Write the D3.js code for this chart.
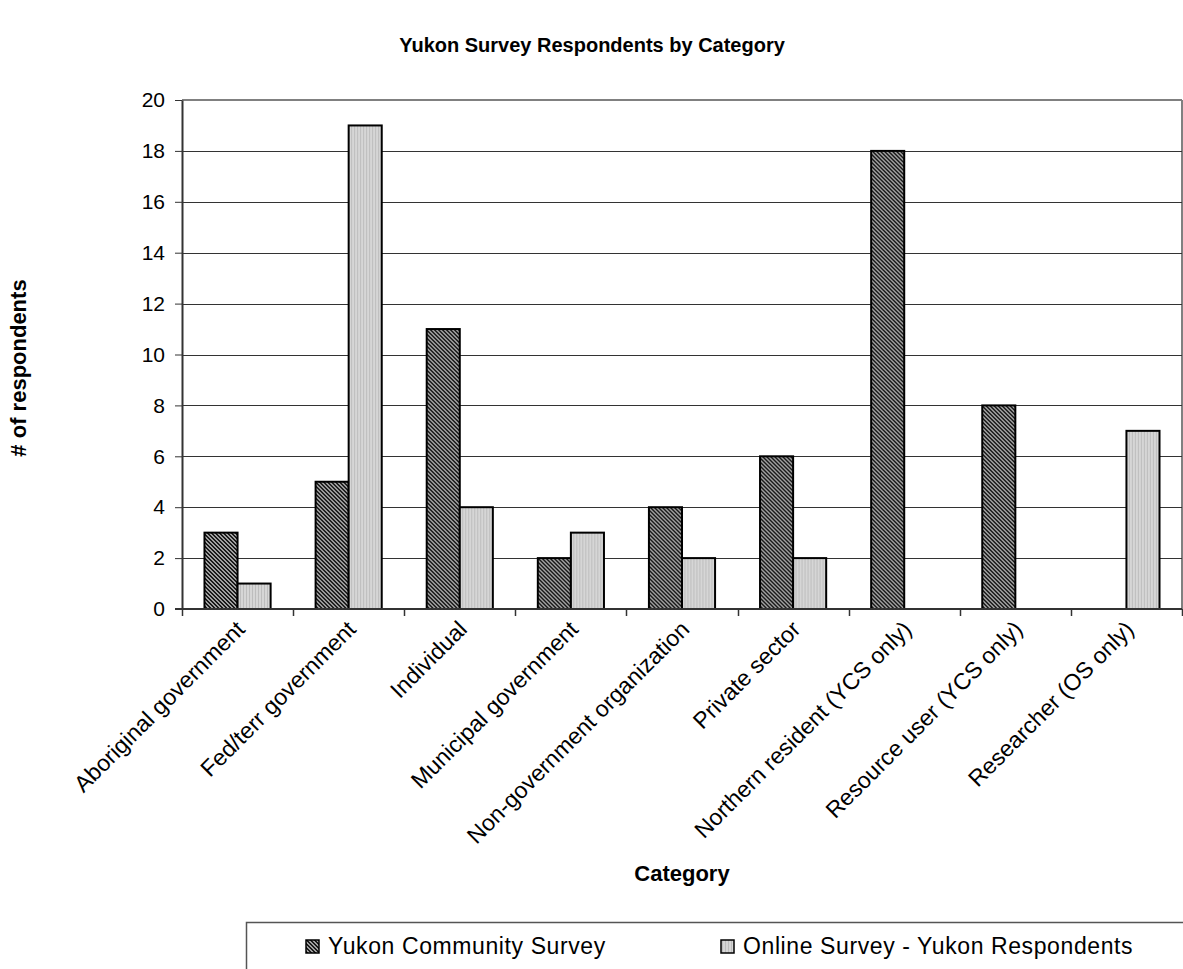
<!DOCTYPE html>
<html>
<head>
<meta charset="utf-8">
<script src="https://cdn.jsdelivr.net/npm/d3@7"></script>
<style>
  body { margin: 0; background: #fff; }
  svg { display: block; font-family: Arial, "Liberation Sans", sans-serif; }
</style>
</head>
<body>
<svg id="chart" width="1183" height="969"></svg>
<script>
// Respondent counts per category for the two surveys
const categories = [
  "Aboriginal government",
  "Fed/terr government",
  "Individual",
  "Municipal government",
  "Non-government organization",
  "Private sector",
  "Northern resident (YCS only)",
  "Resource user (YCS only)",
  "Researcher (OS only)"
];
const seriesNames = ["Yukon Community Survey", "Online Survey - Yukon Respondents"];
const communitySurvey = [3, 5, 11, 2, 4, 6, 18, 8, 0];
const onlineSurvey = [1, 19, 4, 3, 2, 2, 0, 0, 7];
const yTicks = [0, 2, 4, 6, 8, 10, 12, 14, 16, 18, 20];

const svg = d3.select("#chart");
const margin = { left: 182, right: 1182, top: 100, bottom: 609 };

// Fill patterns: dark checker for the community survey, light stripes for the online survey
const defs = svg.append("defs");
const dark = defs.append("pattern").attr("id", "pat-dark")
  .attr("patternUnits", "userSpaceOnUse").attr("width", 4).attr("height", 4);
dark.append("rect").attr("width", 4).attr("height", 4).attr("fill", "#a0a0a0");
[[0, 0], [1, 1], [2, 2], [3, 3], [1, 0], [2, 1], [3, 2], [0, 3]].forEach(([px, py]) =>
  dark.append("rect").attr("x", px).attr("y", py).attr("width", 1).attr("height", 1).attr("fill", "#1a1a1a"));

const light = defs.append("pattern").attr("id", "pat-light")
  .attr("patternUnits", "userSpaceOnUse").attr("width", 3).attr("height", 3);
light.append("rect").attr("width", 3).attr("height", 3).attr("fill", "#d6d6d6");
light.append("rect").attr("x", 1).attr("width", 1).attr("height", 3).attr("fill", "#bdbdbd");

const fills = ["url(#pat-dark)", "url(#pat-light)"];

const x = d3.scaleBand().domain(categories).range([margin.left, margin.right]);
const xSub = d3.scaleBand().domain([0, 1]).range([0, x.bandwidth()]).paddingInner(0).paddingOuter(0.68);
const y = d3.scaleLinear().domain([0, 20]).range([margin.bottom, margin.top]);

// Title
svg.append("text").attr("x", 592).attr("y", 52).attr("text-anchor", "middle")
  .attr("font-size", 20).attr("font-weight", "bold").text("Yukon Survey Respondents by Category");

// Plot frame (top and right edges)
svg.append("line").attr("x1", margin.left).attr("x2", margin.right).attr("y1", margin.top).attr("y2", margin.top)
  .attr("stroke", "#808080").attr("stroke-width", 2);
svg.append("line").attr("x1", margin.right).attr("x2", margin.right).attr("y1", margin.top).attr("y2", margin.bottom)
  .attr("stroke", "#808080").attr("stroke-width", 2);

// Gridlines
svg.append("g").selectAll("line").data(yTicks.filter(d => d > 0 && d < 20)).join("line")
  .attr("x1", margin.left).attr("x2", margin.right)
  .attr("y1", d => Math.round(y(d)) + 0.5).attr("y2", d => Math.round(y(d)) + 0.5)
  .attr("stroke", "#333").attr("stroke-width", 1);

// Bars
const groups = svg.append("g").selectAll("g").data(categories).join("g")
  .attr("transform", d => `translate(${x(d)},0)`);
groups.selectAll("rect")
  .data((d, i) => [communitySurvey[i], onlineSurvey[i]].map((v, s) => ({ v, s })).filter(o => o.v > 0))
  .join("rect")
  .attr("x", d => xSub(d.s))
  .attr("width", xSub.bandwidth())
  .attr("y", d => y(d.v))
  .attr("height", d => y(0) - y(d.v))
  .attr("fill", d => fills[d.s])
  .attr("stroke", "#000").attr("stroke-width", 2);

// Y axis
const yAxis = d3.axisLeft(y).tickValues(yTicks).tickSize(7).tickSizeOuter(0);
const gy = svg.append("g").attr("transform", `translate(${margin.left},0)`).call(yAxis);
gy.select(".domain").attr("stroke", "#333").attr("stroke-width", 2);
gy.selectAll(".tick line").attr("stroke", "#333");
gy.selectAll(".tick text").attr("font-size", 21).attr("fill", "#000").attr("x", -17)
  .attr("font-family", "Arial, 'Liberation Sans', sans-serif");

// X axis: baseline with ticks at category boundaries
svg.append("line").attr("x1", margin.left - 7).attr("x2", margin.right).attr("y1", margin.bottom).attr("y2", margin.bottom)
  .attr("stroke", "#333").attr("stroke-width", 2);
const boundaries = categories.map(c => x(c)).concat([margin.right]);
svg.append("g").selectAll("line").data(boundaries).join("line")
  .attr("x1", d => Math.round(d) + 0.5).attr("x2", d => Math.round(d) + 0.5)
  .attr("y1", margin.bottom).attr("y2", margin.bottom + 7)
  .attr("stroke", "#333").attr("stroke-width", 1.5);

// Rotated category labels
svg.append("g").selectAll("text").data(categories).join("text")
  .attr("transform", d => `translate(${x(d) + x.bandwidth() / 2 + 3},${margin.bottom + 16}) rotate(-45)`)
  .attr("text-anchor", "end").attr("font-size", 23).attr("dy", "0.35em")
  .text(d => d);

// Axis titles
svg.append("text").attr("x", 682).attr("y", 881).attr("text-anchor", "middle")
  .attr("font-size", 22).attr("font-weight", "bold").text("Category");
svg.append("text").attr("transform", "translate(26,368) rotate(-90)").attr("text-anchor", "middle")
  .attr("font-size", 22).attr("font-weight", "bold").text("# of respondents");

// Legend
svg.append("path").attr("d", "M246.5,969 L246.5,922.5 L1183,922.5").attr("fill", "none")
  .attr("stroke", "#555").attr("stroke-width", 1.5);
const legendX = [306, 721];
const leg = svg.append("g").selectAll("g").data(seriesNames).join("g")
  .attr("transform", (d, i) => `translate(${legendX[i]},0)`);
leg.append("rect").attr("x", 0).attr("y", 940).attr("width", 13).attr("height", 13)
  .attr("fill", (d, i) => fills[i]).attr("stroke", "#000").attr("stroke-width", 1.5);
leg.append("text").attr("x", 22).attr("y", 954).attr("font-size", 23).attr("letter-spacing", 0.6).text(d => d);
</script>
</body>
</html>
